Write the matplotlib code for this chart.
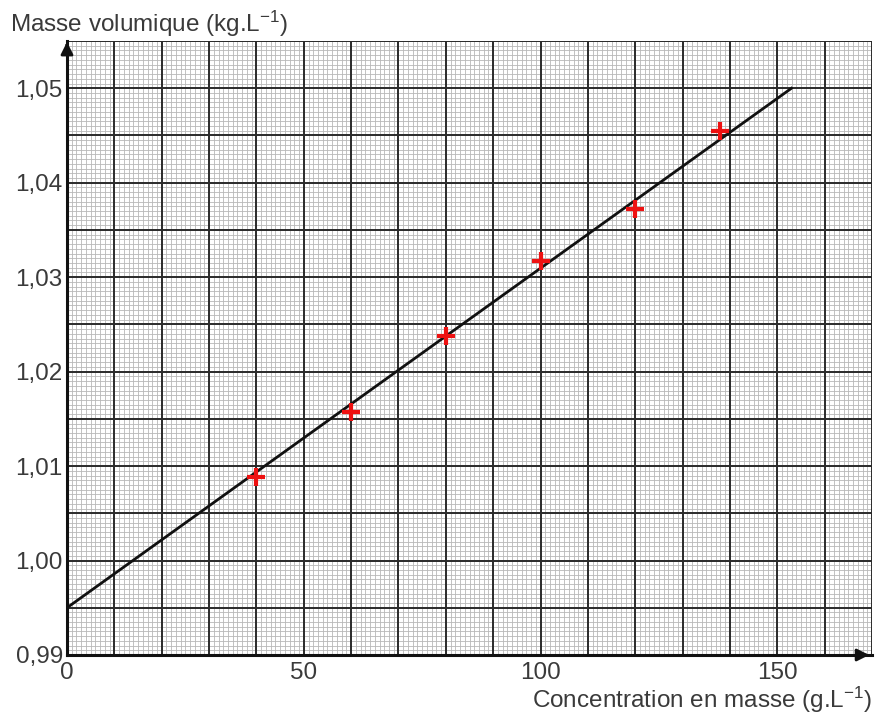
import numpy as np
import matplotlib
matplotlib.use("Agg")
import matplotlib.pyplot as plt

plt.rcParams['font.family'] = ['Liberation Sans', 'DejaVu Sans']
plt.rcParams['mathtext.default'] = 'regular'

# measured points (concentration g/L, masse volumique kg/L)
conc = [40, 60, 80, 100, 120, 138]
rho = [1.0088, 1.0157, 1.0238, 1.0317, 1.0372, 1.0455]

# drawn straight line, end points
line_x = [0, 153]
line_y = [0.995, 1.050]

xticks = [0, 50, 100, 150]
yticks = [0.99, 1.00, 1.01, 1.02, 1.03, 1.04, 1.05]
ytick_labels = ["0,99", "1,00", "1,01", "1,02", "1,03", "1,04", "1,05"]

fig = plt.figure(figsize=(8.86, 7.15), dpi=100)
ax = fig.add_axes([67/886, 1-655/715, 805/886, 614/715])

ax.set_xlim(0, 170)
ax.set_ylim(0.99, 1.055)

# millimetre paper: minor lines then major lines
for xv in np.arange(0, 170.01, 1):
    ax.axvline(xv, color="#b8b8b8", lw=0.6, zorder=0)
for yv in np.arange(0.99, 1.0551, 0.0005):
    ax.axhline(yv, color="#b8b8b8", lw=0.6, zorder=0)
for xv in np.arange(0, 170.01, 10):
    ax.axvline(xv, color="#2a2a2a", lw=1.4, zorder=1)
for yv in np.arange(0.99, 1.0551, 0.005):
    ax.axhline(yv, color="#2a2a2a", lw=1.4, zorder=1)

ax.plot(line_x, line_y, color="#111111", lw=2.0, zorder=3)
ax.plot(conc, rho, linestyle="none", marker="+", color="#ee1111",
        markersize=13, markeredgewidth=3, zorder=4)

for s in ["top", "right"]:
    ax.spines[s].set_visible(False)
for s in ["left", "bottom"]:
    ax.spines[s].set_linewidth(2.2)
    ax.spines[s].set_color("#111111")

# arrows at the axis ends
ax.annotate("", xy=(1.0, 0), xytext=(0.985, 0), xycoords="axes fraction",
            arrowprops=dict(arrowstyle="-|>", color="#111111", lw=2,
                            mutation_scale=18), annotation_clip=False)
ax.annotate("", xy=(0, 1.003), xytext=(0, 0.985), xycoords="axes fraction",
            arrowprops=dict(arrowstyle="-|>", color="#111111", lw=2,
                            mutation_scale=18), annotation_clip=False)

ax.set_xticks(xticks)
ax.set_yticks(yticks)
ax.set_yticklabels(ytick_labels)
ax.tick_params(length=0, labelsize=17.5, labelcolor="#3a3a3a", pad=3)
ax.tick_params(axis="x", pad=5)

fig.text(10/886, 1-24/715, "Masse volumique (kg.L$^{-1}$)", fontsize=17.5,
         color="#3a3a3a", va="center", ha="left")
fig.text(872/886, 1-700/715, "Concentration en masse (g.L$^{-1}$)",
         fontsize=17.5, color="#3a3a3a", va="center", ha="right")

fig.savefig("out.png", dpi=100)
